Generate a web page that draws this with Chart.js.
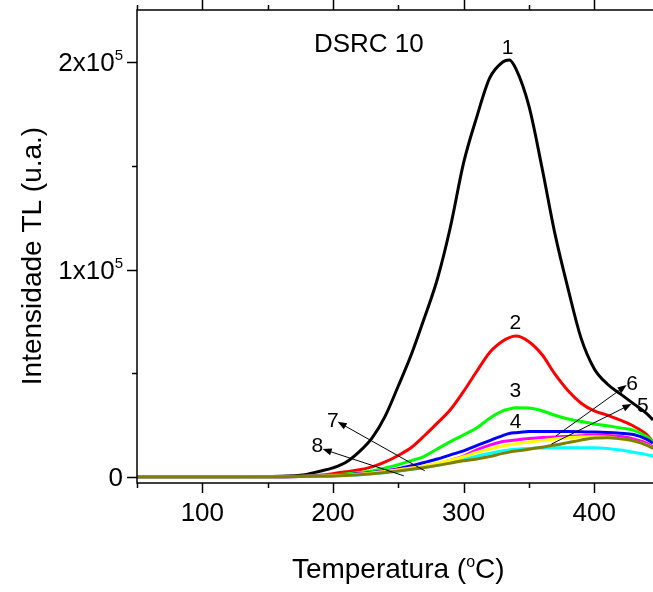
<!DOCTYPE html>
<html lang="pt">
<head>
  <meta charset="UTF-8">
  <title>DSRC 10 - Intensidade TL</title>
  <style>
    body { margin: 0; background: #fff; }
    #chart { display: block; }
  </style>
</head>
<body>
<canvas id="chart" width="653" height="592"></canvas>

<script src="https://cdn.jsdelivr.net/npm/chart.js"></script>
<script>
  // Temperaturas (°C) em que as curvas foram lidas
  const temps = [50, 100, 150, 175, 190, 200, 210, 220, 230, 240, 250, 260, 270, 280, 290, 300,
                 310, 320, 330, 335, 340, 350, 360, 370, 380, 390, 400, 410, 420, 430, 440, 445];

  // Intensidade TL (u.a.) de cada curva
  const curva1 = [0, 0, 100, 700, 2700, 4300, 7000, 12000, 18800, 29300, 43800, 59000, 76700, 95600, 120800, 151500,
                  173500, 192500, 200200, 201200, 197000, 179000, 149300, 117100, 90700, 66800, 52200, 44800, 40000, 35300, 30600, 27400];
  const curva2 = [0, 0, 0, 300, 800, 1500, 2400, 3400, 4800, 7200, 10300, 14100, 19800, 26000, 32500, 41200,
                  50800, 60000, 65500, 67200, 67900, 65200, 59000, 49500, 41500, 35500, 31800, 29800, 27300, 24500, 20500, 16900];
  const curva3 = [0, 0, 0, 200, 500, 900, 1300, 1900, 2800, 4300, 5800, 7800, 9900, 13500, 17000, 20200,
                  23500, 28300, 31800, 32700, 33300, 33200, 31900, 29700, 27900, 26700, 25500, 24600, 23600, 22500, 19400, 16900];
  const curva4 = [0, 0, 0, 150, 400, 700, 1000, 1500, 2100, 2900, 3900, 5300, 6900, 8600, 10600, 12500,
                  15000, 17500, 19900, 20900, 21300, 21800, 21900, 21900, 21800, 21700, 21600, 21400, 21000, 20400, 18200, 16300];
  const curva5 = [0, 0, 0, 100, 250, 400, 700, 1000, 1500, 2100, 2800, 3600, 4500, 5600, 6800, 8200,
                  9900, 11300, 12600, 13000, 13300, 13700, 13900, 14000, 14000, 14000, 14000, 13700, 12900, 11800, 10700, 10000];
  const curva6 = [0, 0, 0, 150, 350, 500, 800, 1300, 1900, 2700, 3500, 4300, 5000, 6300, 8000, 10000,
                  13000, 15300, 17000, 17400, 17800, 18500, 19000, 19200, 19500, 19800, 20100, 19900, 19400, 18300, 16300, 14500];
  const curva7 = [0, 0, 0, 120, 300, 450, 750, 1200, 1800, 2500, 3300, 4200, 5200, 6500, 8000, 9700,
                  11700, 13400, 14900, 15400, 16000, 16800, 17500, 18200, 18800, 19200, 19300, 19100, 18300, 17200, 15400, 13700];
  const curva8 = [0, 0, 0, 100, 250, 400, 650, 1000, 1500, 2100, 2800, 3600, 4500, 5500, 6600, 7700,
                  8600, 9800, 11300, 11900, 12400, 13300, 14300, 15300, 16500, 17700, 18700, 18900, 18400, 17400, 15300, 13700];

  const series = [curva1, curva2, curva3, curva4, curva5, curva6, curva7, curva8];
  const colors = ['#000000', '#ff0000', '#00ff00', '#0000ff', '#00ffff', '#ff00ff', '#ffff00', '#808000'];

  // Marcas dos eixos
  const xMajor = [100, 200, 300, 400];
  const xMinor = [50, 150, 250, 350];
  const yMajor = [0, 100000, 200000];
  const yMinor = [50000, 150000];
  const yTickLabels = [['0', ''], ['1x10', '5'], ['2x10', '5']];

  // Rotulos das curvas (x, y em unidades dos dados)
  const curveNames = ['1', '2', '3', '4', '5', '6', '7', '8'];
  const namePos = [[333.6, 204000], [339.7, 71140], [339.7, 38320], [339.9, 23650],
                   [437.3, 31370], [428.9, 41840], [199.9, 23840], [188.0, 12070]];
  // Setas: [x cauda, y cauda, x ponta, y ponta]
  const arrows = [[367.3, 15780, 428.6, 35090], [370.6, 19640, 424.8, 44250],
                  [270.3, 2900, 203.6, 26540], [254.2, 480, 192.1, 13370]];

  // Desenha eixos, textos e setas por cima do grafico
  const decor = {
    id: 'decor',
    afterDraw(chart) {
      const { ctx, chartArea: a, scales: { x, y } } = chart;
      ctx.save();
      ctx.strokeStyle = '#000';
      ctx.fillStyle = '#000';
      ctx.lineWidth = 1.5;

      ctx.beginPath();
      ctx.moveTo(a.right, a.top);
      ctx.lineTo(a.left, a.top);
      ctx.lineTo(a.left, a.bottom);
      ctx.lineTo(a.right, a.bottom);
      ctx.stroke();

      ctx.beginPath();
      xMajor.concat(xMinor).forEach(v => {
        const px = Math.round(x.getPixelForValue(v)) + 0.5;
        const len = xMajor.includes(v) ? 10 : 5;
        ctx.moveTo(px, a.bottom); ctx.lineTo(px, a.bottom + len);
        ctx.moveTo(px, a.top); ctx.lineTo(px, a.top - len);
      });
      yMajor.concat(yMinor).forEach(v => {
        const py = Math.round(y.getPixelForValue(v)) + 0.5;
        const len = yMajor.includes(v) ? 10 : 5;
        ctx.moveTo(a.left, py); ctx.lineTo(a.left - len, py);
      });
      ctx.stroke();

      // rotulos do eixo x
      ctx.font = '26px Arial, "Liberation Sans", sans-serif';
      ctx.textAlign = 'center';
      ctx.textBaseline = 'alphabetic';
      xMajor.forEach(v => ctx.fillText(String(v), x.getPixelForValue(v), a.bottom + 38));

      // rotulos do eixo y (com expoente)
      yMajor.forEach((v, i) => {
        const [base, sup] = yTickLabels[i];
        const py = y.getPixelForValue(v) + 9;
        const right = a.left - 14;
        ctx.font = '15px Arial, "Liberation Sans", sans-serif';
        const ws = ctx.measureText(sup).width;
        ctx.textAlign = 'left';
        if (sup) ctx.fillText(sup, right - ws, py - 11);
        ctx.font = '26px Arial, "Liberation Sans", sans-serif';
        ctx.textAlign = 'right';
        ctx.fillText(base, right - ws, py);
      });

      // titulo do eixo x: Temperatura (°C)
      const t1 = 'Temperatura (', t2 = 'o', t3 = 'C)';
      ctx.font = '28px Arial, "Liberation Sans", sans-serif';
      const w1 = ctx.measureText(t1).width, w3 = ctx.measureText(t3).width;
      ctx.font = '16px Arial, "Liberation Sans", sans-serif';
      const w2 = ctx.measureText(t2).width;
      let tx = x.getPixelForValue(250) - (w1 + w2 + w3) / 2;
      const ty = 578;
      ctx.textAlign = 'left';
      ctx.font = '28px Arial, "Liberation Sans", sans-serif';
      ctx.fillText(t1, tx, ty);
      ctx.font = '16px Arial, "Liberation Sans", sans-serif';
      ctx.fillText(t2, tx + w1, ty - 11);
      ctx.font = '28px Arial, "Liberation Sans", sans-serif';
      ctx.fillText(t3, tx + w1 + w2, ty);

      // titulo do eixo y
      ctx.save();
      ctx.translate(41, 256);
      ctx.rotate(-Math.PI / 2);
      ctx.textAlign = 'center';
      ctx.fillText('Intensidade TL (u.a.)', 0, 0);
      ctx.restore();

      // nome da amostra
      ctx.font = '26px Arial, "Liberation Sans", sans-serif';
      ctx.textAlign = 'left';
      ctx.fillText('DSRC 10', x.getPixelForValue(185.4), y.getPixelForValue(205200));

      // numeros das curvas
      ctx.font = '21px Arial, "Liberation Sans", sans-serif';
      ctx.textAlign = 'center';
      curveNames.forEach((n, i) => {
        ctx.fillText(n, x.getPixelForValue(namePos[i][0]), y.getPixelForValue(namePos[i][1]));
      });

      // setas
      ctx.lineWidth = 1;
      arrows.forEach(([x0, y0, x1, y1]) => {
        const ax = x.getPixelForValue(x0), ay = y.getPixelForValue(y0);
        const bx = x.getPixelForValue(x1), by = y.getPixelForValue(y1);
        const ang = Math.atan2(by - ay, bx - ax);
        ctx.beginPath();
        ctx.moveTo(ax, ay);
        ctx.lineTo(bx - 6 * Math.cos(ang), by - 6 * Math.sin(ang));
        ctx.stroke();
        ctx.beginPath();
        ctx.moveTo(bx, by);
        ctx.lineTo(bx - 9 * Math.cos(ang) + 3.5 * Math.sin(ang), by - 9 * Math.sin(ang) - 3.5 * Math.cos(ang));
        ctx.lineTo(bx - 9 * Math.cos(ang) - 3.5 * Math.sin(ang), by - 9 * Math.sin(ang) + 3.5 * Math.cos(ang));
        ctx.closePath();
        ctx.fill();
      });
      ctx.restore();
    }
  };

  const ctx = document.getElementById('chart').getContext('2d');
  new Chart(ctx, {
    type: 'line',
    data: {
      datasets: series.map((s, i) => ({
        label: curveNames[i],
        data: temps.map((t, j) => ({ x: t, y: s[j] })),
        borderColor: colors[i],
        borderWidth: 3,
        pointRadius: 0,
        fill: false,
        cubicInterpolationMode: 'monotone',
        order: series.length - i
      }))
    },
    options: {
      responsive: false,
      animation: false,
      devicePixelRatio: 1,
      layout: { padding: { top: 10, right: 0, left: 0, bottom: 0 } },
      plugins: { legend: { display: false }, tooltip: { enabled: false } },
      scales: {
        x: {
          type: 'linear', min: 50, max: 445,
          grid: { display: false }, border: { display: false },
          ticks: { display: false },
          afterFit: s => { s.height = 109; }
        },
        y: {
          type: 'linear', min: -3000, max: 225300,
          grid: { display: false }, border: { display: false },
          ticks: { display: false },
          afterFit: s => { s.width = 137; }
        }
      }
    },
    plugins: [decor]
  });
</script>
</body>
</html>
